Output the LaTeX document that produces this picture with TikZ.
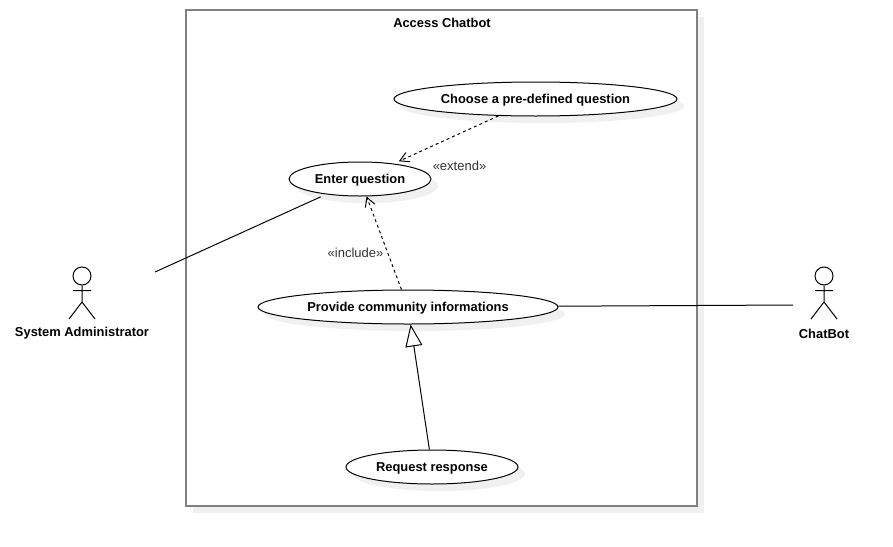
\documentclass[tikz,border=0pt]{standalone}
\usepackage{fontspec}
\setmainfont{Liberation Sans}
\usetikzlibrary{arrows.meta,shadows,shapes.geometric}
\definecolor{shadowgray}{HTML}{F0F0F0}
\definecolor{framegray}{HTML}{808080}
\tikzset{
  softshadow/.style={general shadow={shadow xshift=7pt,shadow yshift=-7pt,fill=shadowgray,draw=none}},
  usecase/.style={ellipse,draw=black,line width=1pt,fill=white,inner sep=0pt,minimum height=34pt,softshadow,font=\fontsize{12.9}{14}\selectfont\bfseries,text depth=0pt,text height=0pt},
  frame/.style={rectangle,draw=framegray,line width=2pt,fill=white,inner sep=0pt,minimum width=511pt,minimum height=496pt,softshadow},
  titletext/.style={font=\fontsize{12.9}{14}\selectfont\bfseries,inner sep=0pt},
  actorname/.style={font=\fontsize{12.9}{14}\selectfont\bfseries,inner sep=0pt},
  stereo/.style={font=\fontsize{13}{14}\selectfont,text=black!80,inner sep=0pt},
  assoc/.style={draw=black,line width=1pt},
  dep/.style={draw=black,line width=1pt,dash pattern=on 3pt off 3pt,-{Straight Barb[length=9pt,width=10pt,line width=1pt]}},
  gen/.style={draw=black,line width=1pt,-{Triangle[open,fill=white,length=22pt,width=17pt,line width=1pt]}},
  head/.style={circle,draw=black,line width=1pt,fill=white,inner sep=0pt,minimum size=18pt},
  limb/.style={draw=black,line width=1pt},
}
\begin{document}
\begin{tikzpicture}[x=1pt,y=-1pt]
\useasboundingbox (0,0) rectangle (893,546);
\fill[white] (0,0) rectangle (893,546);
\node[frame] (box) at (441.5,258) {};
\node[titletext] (title) at (442,23) {Access Chatbot};
\node[usecase,minimum width=283pt] (choose) at (535.5,99) {\raisebox{-4.5pt}{Choose a pre-defined question}};
\node[usecase,minimum width=142pt] (enter) at (360,179) {\raisebox{-4.5pt}{Enter question}};
\node[usecase,minimum width=300pt] (provide) at (408,307) {\raisebox{-4.5pt}{Provide community informations}};
\node[usecase,minimum width=172pt] (request) at (432,467) {\raisebox{-4.5pt}{Request response}};
% system administrator
\node[head] (ahead) at (82,276) {};
\coordinate (ahip) at (82,302);
\coordinate (aarml) at (73,290.5);
\coordinate (aarmr) at (91,290.5);
\coordinate (alegl) at (69,319);
\coordinate (alegr) at (95,319);
\draw[limb] (ahead) -- (ahip) -- (alegl) (ahip) -- (alegr) (aarml) -- (aarmr);
\node[actorname] (aname) at (82,333.5) {System Administrator};
% chatbot
\node[head] (bhead) at (824,276) {};
\coordinate (bhip) at (824,302);
\coordinate (barml) at (815,290.5);
\coordinate (barmr) at (833,290.5);
\coordinate (blegl) at (811,319);
\coordinate (blegr) at (837,319);
\draw[limb] (bhead) -- (bhip) -- (blegl) (bhip) -- (blegr) (barml) -- (barmr);
\node[actorname] (bname) at (824,333.5) {ChatBot};
% connectors
\coordinate (aend) at (155,272);
\coordinate (bend) at (793,305);
\draw[assoc,shorten >=6pt] (aend) -- (enter);
\draw[assoc] (provide) -- (bend);
\draw[dep,shorten >=5.5pt] (choose) -- (enter);
\draw[dep] (provide) -- (enter);
\draw[gen] (request) -- (provide);
\node[stereo] (ext) at (459.5,166) {«extend»};
\node[stereo] (inc) at (355.5,253) {«include»};
\end{tikzpicture}
\end{document}
